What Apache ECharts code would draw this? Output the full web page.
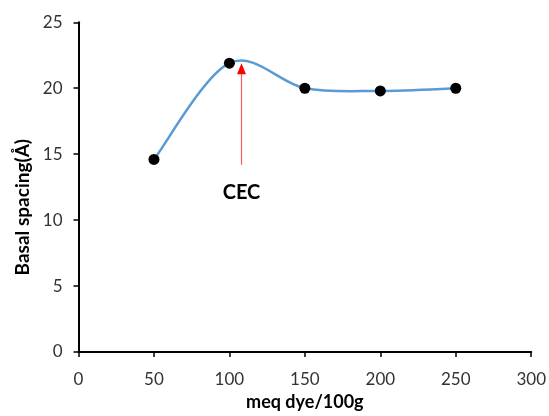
<!DOCTYPE html>
<html>
<head>
<meta charset="utf-8">
<script src="https://cdn.jsdelivr.net/npm/echarts@6/dist/echarts.min.js"></script>
<style>
  html, body { margin: 0; padding: 0; background: #fff; }
  #chart { width: 549px; height: 416px; }
</style>
</head>
<body>
<div id="chart"></div>
<script>
// Dye loading (meq dye / 100 g clay) and measured basal spacing (Å)
const dyeLoading = [50, 100, 150, 200, 250];
const basalSpacing = [14.6, 21.9, 20.0, 19.8, 20.0];

// CEC marker: vertical arrow at the cation exchange capacity
const cecX = 108;
const cecArrowFrom = 14.2;
const cecArrowTo = 21.9;
const cecLabelY = 12.1;
const cecLabel = 'CEC';

const xTitle = 'meq dye/100g';
const yTitle = 'Basal spacing(Å)';

const fontFamily = 'Lato, "Open Sans", "DejaVu Sans", sans-serif';
const curveColor = '#5B9BD5';
const arrowColor = '#ff0000';

const points = dyeLoading.map((x, i) => [x, basalSpacing[i]]);
const n = points.length;
const clampIdx = k => Math.max(0, Math.min(n - 1, k));

// Smoothed connector: cubic Bezier segments with Catmull-Rom style tangents
// (1/6 of the neighbour span), end points using themselves as the missing neighbour.
function renderSegment(params, api) {
  const i = params.dataIndex;
  if (i >= n - 1) return null;
  const P = k => api.coord(points[clampIdx(k)]);
  const p0 = P(i - 1), p1 = P(i), p2 = P(i + 1), p3 = P(i + 2);
  return {
    type: 'bezierCurve',
    shape: {
      x1: p1[0], y1: p1[1],
      x2: p2[0], y2: p2[1],
      cpx1: p1[0] + (p2[0] - p0[0]) / 6,
      cpy1: p1[1] + (p2[1] - p0[1]) / 6,
      cpx2: p2[0] - (p3[0] - p1[0]) / 6,
      cpy2: p2[1] - (p3[1] - p1[1]) / 6
    },
    style: { stroke: curveColor, lineWidth: 2.5, fill: null, lineCap: 'round' },
    silent: true
  };
}

// Upward arrow: thin shaft with a filled triangular head whose tip sits on the end value
function renderArrow(params, api) {
  const base = api.coord([api.value(0), api.value(1)]);
  const tip = api.coord([api.value(0), api.value(2)]);
  const headH = 11, headW = 9;
  const sx = Math.round(tip[0]) + 0.5;
  return {
    type: 'group',
    silent: true,
    children: [
      {
        type: 'line',
        shape: { x1: sx, y1: tip[1] + headH - 1, x2: sx, y2: base[1] },
        style: { stroke: '#ff5a5a', lineWidth: 1.2 }
      },
      {
        type: 'polygon',
        shape: { points: [[sx, tip[1]], [sx - headW / 2, tip[1] + headH], [sx + headW / 2, tip[1] + headH]] },
        style: { fill: arrowColor }
      }
    ]
  };
}

const chart = echarts.init(document.getElementById('chart'), null, { renderer: 'canvas' });

chart.setOption({
  animation: false,
  backgroundColor: '#ffffff',
  grid: { left: 78.5, right: 17.5, top: 22.3, bottom: 63.7, containLabel: false },
  xAxis: {
    type: 'value',
    min: 0, max: 300, interval: 50,
    name: xTitle,
    nameLocation: 'middle',
    nameGap: 41,
    nameTextStyle: { fontFamily, fontSize: 18, fontWeight: 'bold', color: '#000' },
    axisLine: { show: true, onZero: false, lineStyle: { color: '#000', width: 2 } },
    axisTick: { show: true, length: 5, lineStyle: { color: '#000', width: 1.5 } },
    axisLabel: { fontFamily, fontSize: 17, color: '#333', margin: 19 },
    splitLine: { show: false }
  },
  yAxis: {
    type: 'value',
    min: 0, max: 25, interval: 5,
    name: yTitle,
    nameLocation: 'middle',
    nameGap: 46,
    nameTextStyle: { fontFamily, fontSize: 19, fontWeight: 'bold', color: '#000', padding: [0, 40, 0, 0] },
    axisLine: { show: true, lineStyle: { color: '#000', width: 2 } },
    axisTick: { show: true, length: 5, lineStyle: { color: '#000', width: 1.5 } },
    axisLabel: { fontFamily, fontSize: 17, color: '#333', margin: 16 },
    splitLine: { show: false }
  },
  series: [
    {
      type: 'custom',
      data: points,
      renderItem: renderSegment,
      z: 2
    },
    {
      type: 'custom',
      data: [[cecX, cecArrowFrom, cecArrowTo]],
      renderItem: renderArrow,
      z: 4
    },
    {
      type: 'scatter',
      data: points,
      symbol: 'circle',
      symbolSize: 11,
      itemStyle: { color: '#000', opacity: 1 },
      z: 3,
      markPoint: {
        silent: true,
        symbol: 'circle',
        symbolSize: 0,
        label: {
          show: true,
          formatter: cecLabel,
          fontFamily,
          fontSize: 20,
          fontWeight: 'bold',
          color: '#000'
        },
        data: [{ coord: [cecX, cecLabelY] }]
      }
    }
  ]
});
</script>
</body>
</html>
